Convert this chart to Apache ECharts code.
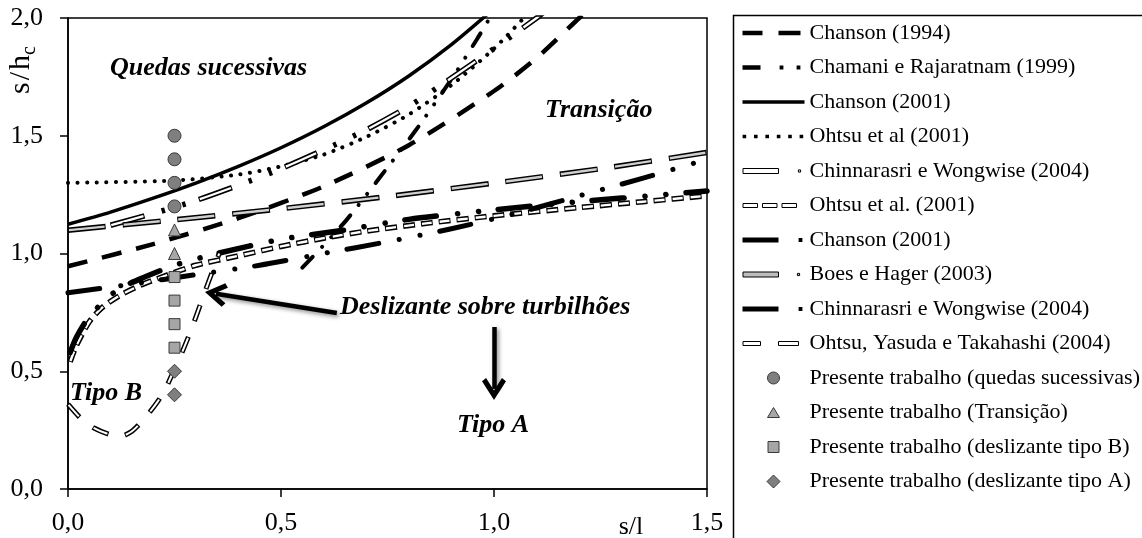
<!DOCTYPE html>
<html><head><meta charset="utf-8">
<script src="https://cdn.jsdelivr.net/npm/echarts@6/dist/echarts.min.js"></script>
<style>html,body{margin:0;padding:0;background:#fff}#c{width:1142px;height:538px}</style>
</head><body><div id="c"></div>
<script>
// ---------- data ----------
const chanson1994 = [[0,0.946],[0.2,1.04],[0.4,1.15],[0.6,1.285],[0.8,1.46],[1.0,1.69],[1.1,1.83],[1.2,2.0],[1.23,2.05]];
const chamani1999 = [[0.55,0.94],[0.6,1.035],[0.655,1.145],[0.735,1.33],[0.815,1.52],[0.9,1.74],[0.96,1.91],[0.99,2.0],[1.0,2.03]];
const chanson2001a = [[0,1.124],[0.1,1.176],[0.2,1.235],[0.3,1.299],[0.4,1.37],[0.5,1.449],[0.6,1.538],[0.7,1.639],[0.8,1.754],[0.9,1.887],[1.0,2.04]];
const ohtsu2001a = [[0,1.3],[0.25,1.31],[0.4,1.335],[0.5,1.37],[0.6,1.42],[0.7,1.495],[0.8,1.59],[0.9,1.715],[1.0,1.87],[1.07,2.0],[1.09,2.04]];
const chinnarasri2004a = [[0.1,1.12],[0.2,1.17],[0.3,1.225],[0.4,1.29],[0.5,1.36],[0.6,1.44],[0.7,1.525],[0.8,1.625],[0.9,1.745],[1.0,1.87],[1.1,2.0],[1.12,2.03]];
const ohtsu2001b = [[0.005,0.54],[0.02,0.61],[0.05,0.71],[0.08,0.77],[0.12,0.82],[0.17,0.865],[0.22,0.9],[0.3,0.95],[0.4,0.99],[0.5,1.03],[0.6,1.065],[0.7,1.095],[0.85,1.13],[1.0,1.16],[1.2,1.195],[1.35,1.22],[1.5,1.245]];
const chanson2001b = [[0,0.833],[0.15,0.87],[0.3,0.91],[0.45,0.95],[0.6,1.0],[0.75,1.05],[0.9,1.105],[1.05,1.17],[1.2,1.245],[1.35,1.32],[1.5,1.40]];
const boesHager2003 = [[0,1.099],[0.25,1.143],[0.5,1.19],[0.75,1.242],[1.0,1.299],[1.25,1.36],[1.5,1.429]];
const chinnarasri2004b = [[0.005,0.58],[0.02,0.645],[0.045,0.72],[0.08,0.79],[0.12,0.85],[0.18,0.9],[0.25,0.95],[0.35,1.0],[0.5,1.06],[0.65,1.1],[0.8,1.145],[1.0,1.185],[1.2,1.22],[1.4,1.25],[1.5,1.265]];
const ohtsuYT2004 = [[0,0.36],[0.03,0.30],[0.06,0.26],[0.1,0.23],[0.125,0.225],[0.15,0.245],[0.18,0.3],[0.21,0.37],[0.23,0.43],[0.25,0.51],[0.27,0.59],[0.29,0.68],[0.31,0.78],[0.33,0.88],[0.355,1.0]];

const presenteX = 0.25;
const quedasY = [1.5,1.4,1.3,1.2];
const transicaoY = [1.1,1.0];
const tipoBY = [0.9,0.8,0.7,0.6];
const tipoAY = [0.5,0.4];

// annotation arrows (data coordinates: start, end)
const arrowLines = [[[0.631,0.747],[0.347,0.829]],[[1.0,0.688],[1.0,0.425]]];

// ---------- styling ----------
const FONT = 'Liberation Serif';
const fmt = v => v.toFixed(1).replace('.', ',');

function line(name, data, width, color, dash, cap, offset, z) {
  return {type:'line', name, data, symbol:'none', showSymbol:false, smooth:0.25,
    clip:true, silent:true, z: z || 2, animation:false, emphasis:{disabled:true},
    lineStyle:{color, width, type: dash || 'solid', cap: cap || 'butt', join:'round', dashOffset: offset || 0}};
}
function scatter(name, ys, symbol, size, fill) {
  return {type:'scatter', name, data: ys.map(y => [presenteX, y]), symbol, symbolSize:size, z:5, silent:true,
    itemStyle:{color:fill, borderColor:'#3a3a3a', borderWidth:1, opacity:1}};
}

// legend icons (62 x 14 box)
const H = 14, C = 7, M = 31;
const R = (x1,x2,h) => `M${x1},${C-h/2}L${x2},${C-h/2}L${x2},${C+h/2}L${x1},${C+h/2}Z`;
const dot = (cx,d) => R(cx-d/2, cx+d/2, d);
const circ = (cx,r) => `M${cx-r},${C}A${r},${r},0,1,0,${cx+r},${C}A${r},${r},0,1,0,${cx-r},${C}Z`;
const tri = (cx,w,h) => `M${cx},${C-h/2}L${cx+w/2},${C+h/2}L${cx-w/2},${C+h/2}Z`;
const dia = (cx,s) => `M${cx},${C-s/2}L${cx+s/2},${C}L${cx},${C+s/2}L${cx-s/2},${C}Z`;
const P = (...p) => 'path://M0,0M62,' + H + p.join('');
const blackIcon = {color:'#000', borderWidth:0};
const hollowIcon = {color:'#fff', borderColor:'#000', borderWidth:1, borderType:'solid'};
const markerIcon = fill => ({color:fill, borderColor:'#3a3a3a', borderWidth:1, borderType:'solid'});

const legendData = [
  {name:'Chanson (1994)', icon:P(R(0,20,4.5), R(36,58,4.5)), itemStyle:blackIcon},
  {name:'Chamani e Rajaratnam (1999)', icon:P(R(0,18,4.5), dot(39,3.8), dot(56,3.8)), itemStyle:blackIcon},
  {name:'Chanson (2001)', icon:P(R(0,62,3.6)), itemStyle:blackIcon},
  {name:'Ohtsu et al (2001)', icon:P(dot(1.9,3.6), dot(13.3,3.6), dot(24.7,3.6), dot(36.1,3.6), dot(47.5,3.6), dot(58.9,3.6)), itemStyle:blackIcon},
  {name:'Chinnarasri e Wongwise (2004)', icon:P(R(0.5,36,5), dot(57,2.2)), itemStyle:hollowIcon},
  {name:'Ohtsu et al. (2001)', icon:P(R(0.5,15,4), R(20,34.5,4), R(39.5,54,4)), itemStyle:hollowIcon},
  {name:'Chanson (2001) ', icon:P(R(0,36,5), dot(58,3.8)), itemStyle:blackIcon},
  {name:'Boes e Hager (2003)', icon:P(R(0.5,36,5), dot(56,2.2)), itemStyle:{color:'#bdbdbd', borderColor:'#000', borderWidth:1, borderType:'solid'}},
  {name:'Chinnarasri e Wongwise (2004) ', icon:P(R(0,36,5), dot(58,3.8)), itemStyle:blackIcon},
  {name:'Ohtsu, Yasuda e Takahashi (2004)', icon:P(R(0.5,18,4), R(36,56,4)), itemStyle:hollowIcon},
  {name:'Presente trabalho (quedas sucessivas)', icon:P(circ(M,6)), itemStyle:markerIcon('#7f7f7f')},
  {name:'Presente trabalho (Transição)', icon:P(tri(M,12,10)), itemStyle:markerIcon('#a6a6a6')},
  {name:'Presente trabalho (deslizante tipo B)', icon:P(R(M-5.5,M+5.5,11)), itemStyle:markerIcon('#a6a6a6')},
  {name:'Presente trabalho (deslizante tipo A)', icon:P(dia(M,13)), itemStyle:markerIcon('#7f7f7f')}
];

const chevron = 'path://M10,0L20,15L16.6,17.6L10,7.6L3.4,17.6L0,15Z';

const series = [
  line('Chanson (1994)', chanson1994, 4.5, '#000', [20,15]),
  line('Chamani e Rajaratnam (1999)', chamani1999, 4, '#000', [15,13.5,0.1,13.5,0.1,13.8], 'round'),
  line('Chanson (2001)', chanson2001a, 3.5, '#000'),
  line('Ohtsu et al (2001)', ohtsu2001a, 4, '#000', [0.1,9.5], 'round'),
  line('Chinnarasri e Wongwise (2004)', chinnarasri2004a, 5.5, '#000', [35,18,3.5,18,3.5,14]),
  line('_inner_cw1', chinnarasri2004a, 2.3, '#fff', [33,59], 'butt', -1),
  line('Ohtsu et al. (2001)', ohtsu2001b, 5.5, '#000', [12,6]),
  line('_inner_o2', ohtsu2001b, 2.4, '#fff', [10,8], 'butt', -1),
  line('Chanson (2001) ', chanson2001b, 5, '#000', [32,21,0.1,21,0.1,20], 'round'),
  line('Boes e Hager (2003)', boesHager2003, 5.5, '#000', [38,17]),
  line('_inner_bh', boesHager2003, 2.4, '#cfcfcf', [36,19], 'butt', -1),
  line('Chinnarasri e Wongwise (2004) ', chinnarasri2004b, 5.5, '#000', [32,21,0.1,21,0.1,20], 'round'),
  line('Ohtsu, Yasuda e Takahashi (2004)', ohtsuYT2004, 5, '#000', [17,17]),
  line('_inner_oyt', ohtsuYT2004, 2, '#fff', [15,19], 'butt', -1),
  scatter('Presente trabalho (quedas sucessivas)', quedasY, 'circle', 13, '#7f7f7f'),
  scatter('Presente trabalho (Transição)', transicaoY, 'triangle', 12, '#a6a6a6'),
  scatter('Presente trabalho (deslizante tipo B)', tipoBY, 'rect', 11, '#a6a6a6'),
  scatter('Presente trabalho (deslizante tipo A)', tipoAY, 'diamond', 14, '#7f7f7f'),
  {type:'line', name:'_arrows', data:[], silent:true, z:4,
    markLine:{silent:true, animation:false, symbol:['none', chevron], symbolSize:[24,22],
      label:{show:false}, emphasis:{disabled:true},
      itemStyle:{color:'#000'},
      lineStyle:{color:'#000', width:4.5, type:'solid', shadowBlur:4, shadowColor:'rgba(0,0,0,0.45)', shadowOffsetX:2, shadowOffsetY:2},
      data: arrowLines.map(a => [{coord:a[0]}, {coord:a[1]}])}}
];

const annoFont = {fontFamily:FONT, fontSize:26, fontWeight:'bold', fontStyle:'italic', fill:'#000'};
const option = {
  animation:false,
  backgroundColor:'#fff',
  grid:{left:68, right:435, top:18, bottom:49, show:true, borderColor:'#000', borderWidth:1.5},
  xAxis:{type:'value', min:0, max:1.5, interval:0.5,
    axisLine:{show:true, onZero:false, lineStyle:{color:'#000', width:1.5}},
    axisTick:{show:true, length:8, lineStyle:{color:'#000', width:1.5}},
    splitLine:{show:false},
    axisLabel:{color:'#000', fontFamily:FONT, fontSize:26, margin:21, formatter:fmt}},
  yAxis:{type:'value', min:0, max:2, interval:0.5,
    axisLine:{show:true, onZero:false, lineStyle:{color:'#000', width:1.5}},
    axisTick:{show:true, length:8, lineStyle:{color:'#000', width:1.5}},
    splitLine:{show:false},
    axisLabel:{color:'#000', fontFamily:FONT, fontSize:26, margin:25, formatter:fmt}},
  legend:{orient:'vertical', left:742, top:22, padding:0, itemWidth:62, itemHeight:H, itemGap:12.5,
    selectedMode:false, symbolKeepAspect:true,
    textStyle:{color:'#000', fontFamily:FONT, fontSize:22, lineHeight:22},
    data:legendData},
  graphic:[
    {type:'rect', silent:true, z:10, shape:{x:733.5, y:15.5, width:800, height:800}, style:{fill:'none', stroke:'#000', lineWidth:1.5}},
    {type:'text', silent:true, x:110, y:68, style:Object.assign({text:'Quedas sucessivas', align:'left', verticalAlign:'middle'}, annoFont)},
    {type:'text', silent:true, x:545, y:110, style:Object.assign({text:'Transição', align:'left', verticalAlign:'middle'}, annoFont)},
    {type:'text', silent:true, x:340, y:307, style:Object.assign({text:'Deslizante sobre turbilhões', align:'left', verticalAlign:'middle'}, annoFont)},
    {type:'text', silent:true, x:70, y:393, style:Object.assign({text:'Tipo B', align:'left', verticalAlign:'middle'}, annoFont)},
    {type:'text', silent:true, x:457, y:425, style:Object.assign({text:'Tipo A', align:'left', verticalAlign:'middle'}, annoFont)},
    {type:'text', silent:true, x:631, y:527, style:{text:'s/l', fontFamily:FONT, fontSize:26, fill:'#000', align:'center', verticalAlign:'middle'}},
    {type:'text', silent:true, x:21, y:70, rotation:Math.PI/2,
      style:{text:'{s|s}{sl|/}{h|h}{c|c}', align:'center', verticalAlign:'middle',
        rich:{
          s:{fontFamily:FONT, fontSize:30, fill:'#000', padding:[0,1,0,0]},
          sl:{fontFamily:FONT, fontSize:30, fill:'#000', padding:[0,1,0,1]},
          h:{fontFamily:FONT, fontSize:30, fill:'#000', padding:[0,0,0,1]},
          c:{fontFamily:FONT, fontSize:20, fill:'#000', lineHeight:38, verticalAlign:'bottom'}
        }}}
  ],
  series
};
const chart = echarts.init(document.getElementById('c'), null, {renderer:'canvas'});
chart.setOption(option);
</script>
</body></html>
